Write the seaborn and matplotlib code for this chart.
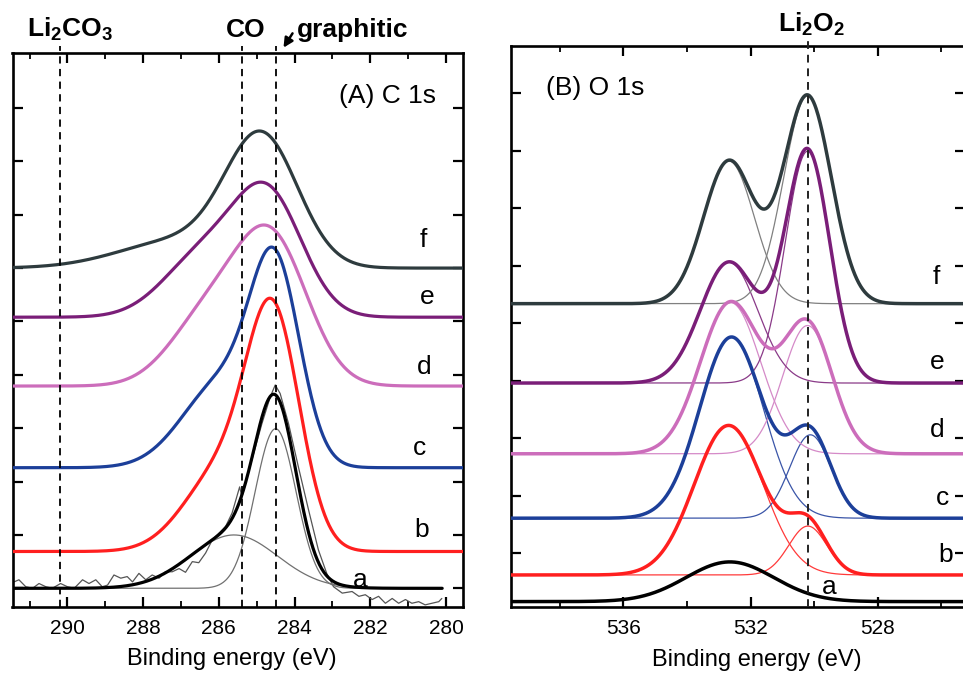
import numpy as np
import pandas as pd
import matplotlib
matplotlib.use("Agg")
import matplotlib.pyplot as plt
from matplotlib.ticker import MultipleLocator
import seaborn as sns

# ---------------- data ----------------
# Panel A : C 1s  (fit peak parameters, energies in eV, heights in offset units)
A_LABELS = ["a", "b", "c", "d", "e", "f"]
A_COLORS = ["#000000", "#ff1f1f", "#1c3f99", "#cc6dbb", "#7a1e78", "#2e3b3e"]
A_BASE = [0.0, 0.69, 2.26, 3.79, 5.08, 6.0]
A_C1 = [284.50, 284.55, 284.50, 284.60, 284.68, 284.86]
A_S1 = [0.54, 0.70, 0.65, 0.95, 0.90, 0.95]
A_H1 = [2.99, 4.10, 3.43, 2.67, 2.18, 2.35]
A_C2 = [285.60, 285.90, 285.90, 286.30, 286.40, 287.00]
A_S2 = [1.15, 1.00, 1.05, 1.00, 1.05, 1.60]
A_H2 = [1.00, 1.50, 1.60, 1.25, 1.15, 0.52]
A_LAB_E = [282.27, 280.63, 280.71, 280.58, 280.50, 280.61]
A_LAB_V = [0.16, 1.09, 2.63, 4.14, 5.46, 6.53]
A_REF_E = [290.2, 285.4, 284.5]          # Li2CO3, CO, graphitic

# raw spectrum of sample a (thin grey line)
A_RAW_E = [291.41, 291.28, 291.10, 290.92, 290.75, 290.57, 290.40, 290.18, 290.00,
           289.82, 289.60, 289.43, 289.25, 289.08, 288.94, 288.77, 288.59, 288.42,
           288.28, 288.11, 287.93, 287.76, 287.58, 287.41, 287.23, 287.05, 286.88,
           286.70, 286.53, 286.35, 286.17, 286.00, 285.82, 285.65, 285.45, 285.39,
           285.13, 284.86, 284.64, 284.51, 284.38, 284.16, 283.90, 283.63, 283.37,
           283.15, 282.97, 282.74, 282.48, 282.30, 282.13, 281.95, 281.78, 281.60,
           281.42, 281.25, 281.07, 280.90, 280.72, 280.55, 280.37, 280.19, 280.11]
A_RAW_V = [0.12, 0.16, 0.03, 0.00, 0.09, 0.03, 0.00, 0.09, 0.03,
           0.00, 0.16, 0.09, 0.16, 0.03, 0.06, 0.25, 0.19, 0.22,
           0.12, 0.28, 0.16, 0.25, 0.19, 0.31, 0.31, 0.37, 0.30,
           0.50, 0.48, 0.66, 0.91, 1.03, 1.16, 1.41, 1.90, 1.71,
           2.40, 3.09, 3.59, 3.81, 3.65, 3.09, 2.28, 1.47, 0.72,
           0.28, 0.03, -0.09, -0.06, -0.15, -0.12, -0.21, -0.15, -0.28,
           -0.19, -0.28, -0.21, -0.28, -0.25, -0.31, -0.28, -0.25, -0.19]

# Panel B : O 1s
B_LABELS = ["a", "b", "c", "d", "e", "f"]
B_COLORS = ["#000000", "#ff1f1f", "#1c3f99", "#cc6dbb", "#7a1e78", "#2e3b3e"]
B_THIN = ["#000000", "#ff3a3a", "#3a55a8", "#d58ac8", "#8a3a88", "#808080"]
B_BASE = [-0.84, -0.377, 0.61, 1.73, 2.96, 4.34]
B_C1 = [532.65, 532.69, 532.60, 532.63, 532.68, 532.68]
B_S1 = [1.38, 1.08, 1.00, 0.95, 0.90, 0.80]
B_H1 = [0.69, 2.60, 3.15, 2.63, 2.10, 2.48]
B_C2 = [530.20, 530.20, 530.12, 530.21, 530.21, 530.21]
B_S2 = [0.70, 0.60, 0.65, 0.78, 0.70, 0.75]
B_H2 = [0.00, 0.85, 1.45, 2.23, 4.03, 3.61]
B_LAB_E = [529.54, 525.86, 525.96, 526.12, 526.12, 526.17]
B_LAB_V = [-0.58, -0.03, 0.96, 2.14, 3.33, 4.81]
B_REF_E = [530.2]                      # Li2O2

A_XTICKS = [290, 288, 286, 284, 282, 280]
B_XTICKS = [536, 532, 528]

# ---------------- style ----------------
sns.set_theme(style="white")
plt.rcParams["font.family"] = ["Liberation Sans", "DejaVu Sans"]
plt.rcParams["mathtext.fontset"] = "custom"
plt.rcParams["mathtext.rm"] = "Liberation Sans"
plt.rcParams["mathtext.bf"] = "Liberation Sans:bold"
plt.rcParams["mathtext.it"] = "Liberation Sans:italic"
plt.rcParams["text.color"] = "black"
plt.rcParams["axes.labelcolor"] = "black"
plt.rcParams["xtick.color"] = "black"
plt.rcParams["ytick.color"] = "black"

W, H = 963, 680
fig = plt.figure(figsize=(W / 100, H / 100), dpi=100)


def frac_box(x0, x1, ytop, ybot):
    return [x0 / W, 1 - ybot / H, (x1 - x0) / W, (ybot - ytop) / H]


axA = fig.add_axes(frac_box(12.5, 463, 53, 607))
axB = fig.add_axes(frac_box(511, 965, 46, 607))


def gauss(e, c, s, h):
    return h * np.exp(-((e - c) ** 2) / (2 * s ** 2))


def line(ax, x, y, color, lw, z=2):
    df = pd.DataFrame({"x": x, "y": y})
    sns.lineplot(data=df, x="x", y="y", ax=ax, color=color, lw=lw,
                 estimator=None, sort=False, zorder=z, legend=False)


# ---------------- panel A ----------------
eA_full = np.linspace(291.45, 279.55, 600)
eA_a = np.linspace(291.45, 280.1, 600)
line(axA, A_RAW_E, A_RAW_V, "#555555", 0.9, 2)
for i in range(6):
    e = eA_a if i == 0 else eA_full
    g1 = gauss(e, A_C1[i], A_S1[i], A_H1[i])
    g2 = gauss(e, A_C2[i], A_S2[i], A_H2[i])
    if i == 0:
        line(axA, e, A_BASE[i] + g1, "#707070", 0.9, 2)
        line(axA, e, A_BASE[i] + g2, "#707070", 0.9, 2)
    line(axA, e, A_BASE[i] + g1 + g2, A_COLORS[i], 2.3, 3)
    axA.text(A_LAB_E[i], A_LAB_V[i], A_LABELS[i], fontsize=19,
             ha="center", va="center", color="black")

for e0 in A_REF_E:
    axA.axvline(e0, ymin=0, ymax=1.012, color="black", lw=1.3,
                dashes=(4, 3), clip_on=False, zorder=4)

axA.set_xlim(291.45, 279.55)
axA.set_ylim(-0.35, 10.03)
axA.set_xticks(A_XTICKS)
axA.xaxis.set_minor_locator(MultipleLocator(1))
axA.set_yticks(range(0, 10))
axA.text(0.832, 0.922, "(A) C 1s", transform=axA.transAxes, fontsize=19,
         ha="center", va="center", color="black")

# ---------------- panel B ----------------
eB = np.linspace(539.6, 525.2, 700)
for i in range(6):
    g1 = gauss(eB, B_C1[i], B_S1[i], B_H1[i])
    g2 = gauss(eB, B_C2[i], B_S2[i], B_H2[i])
    if B_H2[i] > 0:
        line(axB, eB, B_BASE[i] + g1, B_THIN[i], 0.9, 2)
        line(axB, eB, B_BASE[i] + g2, B_THIN[i], 0.9, 2)
    line(axB, eB, B_BASE[i] + g1 + g2, B_COLORS[i], 2.5, 3)
    axB.text(B_LAB_E[i], B_LAB_V[i], B_LABELS[i], fontsize=19,
             ha="center", va="center", color="black")

for e0 in B_REF_E:
    axB.axvline(e0, ymin=0, ymax=1.012, color="#222222", lw=1.4,
                dashes=(4, 3), clip_on=False, zorder=4)

axB.set_xlim(539.53, 525.26)
axB.set_ylim(-0.934, 8.82)
axB.set_xticks(B_XTICKS)
axB.xaxis.set_minor_locator(MultipleLocator(2))
axB.set_yticks(range(0, 9))
axB.text(0.185, 0.925, "(B) O 1s", transform=axB.transAxes, fontsize=19,
         ha="center", va="center", color="black")

# ---------------- common axis styling ----------------
for ax, lx in ((axA, 0.487), (axB, 0.542)):
    ax.set_facecolor("white")
    for sp in ax.spines.values():
        sp.set_visible(True)
        sp.set_color("black")
        sp.set_linewidth(1.9)
    ax.tick_params(axis="both", which="major", direction="in", length=7,
                   width=1.6, top=True, right=True, bottom=True, left=True,
                   labelsize=15, pad=9, colors="black")
    ax.tick_params(axis="both", which="minor", direction="in", length=4,
                   width=1.3, top=True, bottom=True)
    ax.tick_params(axis="y", labelleft=False)
    ax.set_ylabel("")
    ax.set_xlabel("Binding energy (eV)", fontsize=17, color="black")
    ax.xaxis.set_label_coords(lx, -0.074)
    ax.grid(False)

# ---------------- labels above panels ----------------
fig.text(70 / W, 1 - 37 / H, r"$\mathbf{Li_2CO_3}$", fontsize=19,
         ha="center", va="baseline")
fig.text(246 / W, 1 - 37 / H, "CO", fontsize=19, fontweight="bold",
         ha="center", va="baseline")
fig.text(353 / W, 1 - 37 / H, "graphitic", fontsize=19, fontweight="bold",
         ha="center", va="baseline")
fig.text(811 / W, 1 - 32 / H, r"$\mathbf{Li_2O_2}$", fontsize=19,
         ha="center", va="baseline")
fig.patches.append(matplotlib.patches.FancyArrowPatch(
    (294 / W, 1 - 31 / H), (282 / W, 1 - 50 / H), transform=fig.transFigure,
    arrowstyle="-|>", mutation_scale=14, color="black", lw=1.8))

fig.savefig("out.png", dpi=100)
